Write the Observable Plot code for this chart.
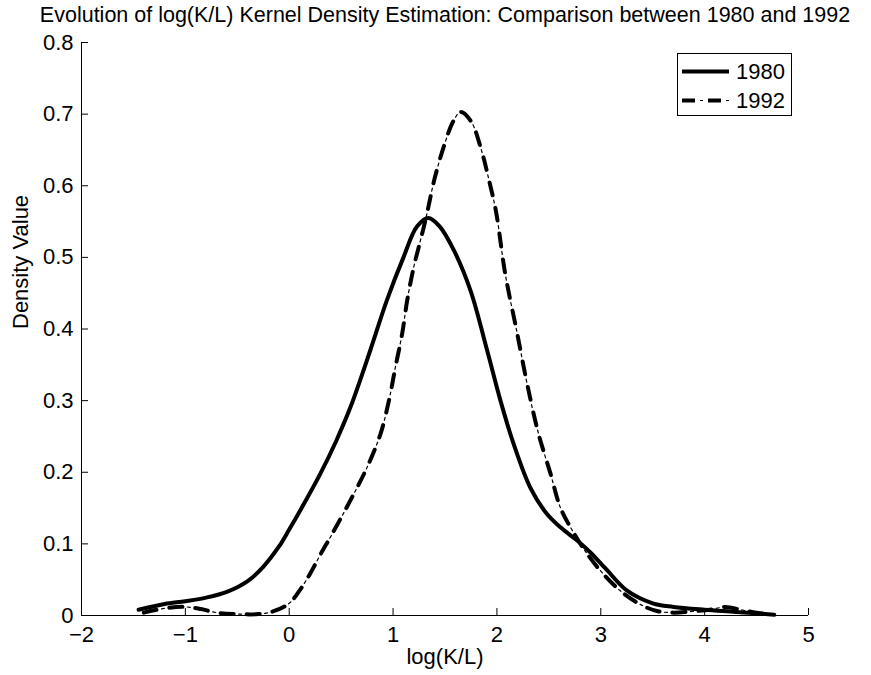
<!DOCTYPE html>
<html><head><meta charset="utf-8">
<script src="https://cdn.jsdelivr.net/npm/d3@7"></script>
<script src="https://cdn.jsdelivr.net/npm/@observablehq/plot@0.6"></script>
<style>
body{margin:0;background:#fff}
#chart{position:relative;width:871px;height:675px;font-family:"Liberation Sans",Arial,sans-serif}
#legend{position:absolute;left:677px;top:53px}
</style>
</head><body><div id="chart"></div>
<script>
const titleText = "Evolution of log(K/L) Kernel Density Estimation: Comparison between 1980 and 1992";
const xLabel = "log(K/L)";
const yLabel = "Density Value";
const years = ["1980", "1992"];
const xTicks = [-2, -1, 0, 1, 2, 3, 4, 5];
const yTicks = [0, 0.1, 0.2, 0.3, 0.4, 0.5, 0.6, 0.7, 0.8];
const yTickLabels = ["0", "0.1", "0.2", "0.3", "0.4", "0.5", "0.6", "0.7", "0.8"];

const x1980 = [-1.45,-1.2,-1.0,-0.8,-0.6,-0.4,-0.25,-0.1,0.0,0.15,0.3,0.45,0.59,0.78,0.94,1.1,1.23,1.34,1.45,1.585,1.745,1.906,2.034,2.16,2.32,2.48,2.62,2.77,2.9,3.05,3.25,3.5,3.7,4.0,4.3,4.67];
const d1980 = [0.008,0.016,0.02,0.025,0.033,0.048,0.068,0.096,0.12,0.158,0.198,0.243,0.291,0.37,0.44,0.50,0.543,0.555,0.543,0.51,0.454,0.37,0.30,0.24,0.179,0.142,0.122,0.105,0.088,0.065,0.035,0.017,0.012,0.008,0.005,0.001];

const x1992 = [-1.4,-1.2,-1.0,-0.85,-0.7,-0.5,-0.3,-0.15,0.0,0.1,0.2,0.3,0.414,0.59,0.75,0.88,0.96,1.023,1.088,1.136,1.2,1.264,1.32,1.4,1.5,1.58,1.65,1.75,1.85,1.92,1.99,2.08,2.195,2.29,2.4,2.516,2.61,2.725,2.85,3.0,3.2,3.4,3.55,3.7,3.9,4.05,4.2,4.35,4.5,4.65];
const d1992 = [0.004,0.01,0.012,0.009,0.004,0.002,0.002,0.006,0.017,0.035,0.058,0.085,0.114,0.161,0.207,0.254,0.3,0.347,0.394,0.44,0.487,0.524,0.557,0.61,0.66,0.69,0.703,0.69,0.65,0.61,0.565,0.477,0.394,0.324,0.254,0.198,0.151,0.119,0.09,0.062,0.033,0.014,0.006,0.004,0.006,0.008,0.012,0.008,0.004,0.001];

const s1980 = x1980.map((x, i) => ({x, y: d1980[i]}));
const s1992 = x1992.map((x, i) => ({x, y: d1992[i]}));
const FS = 22;
const fmtX = d3.format("d");

const plot = Plot.plot({
  width: 871, height: 675,
  marginLeft: 81, marginRight: 63, marginTop: 42, marginBottom: 60,
  style: {fontFamily: '"Liberation Sans", Arial, sans-serif', fontSize: FS + "px", background: "#fff", color: "#000", overflow: "visible"},
  x: {domain: [-2, 5]},
  y: {domain: [0, 0.8]},
  marks: [
    Plot.axisX({ticks: xTicks, tickSize: -7, tickFormat: () => "", label: null, stroke: "#000"}),
    Plot.axisX({ticks: xTicks, tickSize: 0, tickPadding: 11, label: null, fontSize: FS, tickFormat: fmtX}),
    Plot.axisY({ticks: yTicks, tickSize: -7, tickFormat: () => "", label: null, stroke: "#000"}),
    Plot.axisY({ticks: yTicks, tickSize: 0, tickPadding: 8, label: null, fontSize: FS, tickFormat: (d, i) => yTickLabels[i]}),
    Plot.ruleY([0], {stroke: "#000", strokeWidth: 1}),
    Plot.ruleX([-2], {stroke: "#000", strokeWidth: 1}),
    Plot.line(s1980, {x: "x", y: "y", curve: "catmull-rom", stroke: "#000", strokeWidth: 4}),
    Plot.line(s1992, {x: "x", y: "y", curve: "catmull-rom", stroke: "#000", strokeWidth: 4, strokeDasharray: "13,13"}),
    Plot.line(s1992, {x: "x", y: "y", curve: "catmull-rom", stroke: "#000", strokeWidth: 1.2, strokeDasharray: "0,18,3,5"}),
    Plot.text([titleText], {frameAnchor: "top", dy: -36, fontSize: 21.5, text: d => d, fill: "#000"}),
    Plot.text([xLabel], {frameAnchor: "bottom", dy: 48, fontSize: FS, text: d => d, fill: "#000"}),
    Plot.text([yLabel], {frameAnchor: "left", dx: -61, rotate: -90, fontSize: FS, text: d => d, fill: "#000"})
  ]
});
const chart = document.getElementById("chart");
chart.appendChild(plot);

// legend
const ns = "http://www.w3.org/2000/svg";
const lg = document.createElementNS(ns, "svg");
lg.setAttribute("id", "legend");
lg.setAttribute("width", 116);
lg.setAttribute("height", 64);
const rect = document.createElementNS(ns, "rect");
rect.setAttribute("x", 0.5); rect.setAttribute("y", 0.5);
rect.setAttribute("width", 114); rect.setAttribute("height", 62);
rect.setAttribute("fill", "#fff"); rect.setAttribute("stroke", "#000"); rect.setAttribute("stroke-width", 1);
lg.appendChild(rect);
years.forEach((yr, i) => {
  const cy = 18.5 + i * 29;
  const mk = (w, dash) => {
    const l = document.createElementNS(ns, "line");
    l.setAttribute("x1", 5); l.setAttribute("x2", 52);
    l.setAttribute("y1", cy); l.setAttribute("y2", cy);
    l.setAttribute("stroke", "#000"); l.setAttribute("stroke-width", w);
    if (dash) l.setAttribute("stroke-dasharray", dash);
    lg.appendChild(l);
  };
  if (i === 0) mk(4, null);
  else { mk(4, "13,13"); mk(1.2, "0,18,3,5"); }
  const t = document.createElementNS(ns, "text");
  t.setAttribute("x", 59); t.setAttribute("y", cy);
  t.setAttribute("dy", "0.35em");
  t.setAttribute("font-size", FS);
  t.setAttribute("font-family", '"Liberation Sans", Arial, sans-serif');
  t.textContent = yr;
  lg.appendChild(t);
});
chart.appendChild(lg);
</script>
</body></html>
